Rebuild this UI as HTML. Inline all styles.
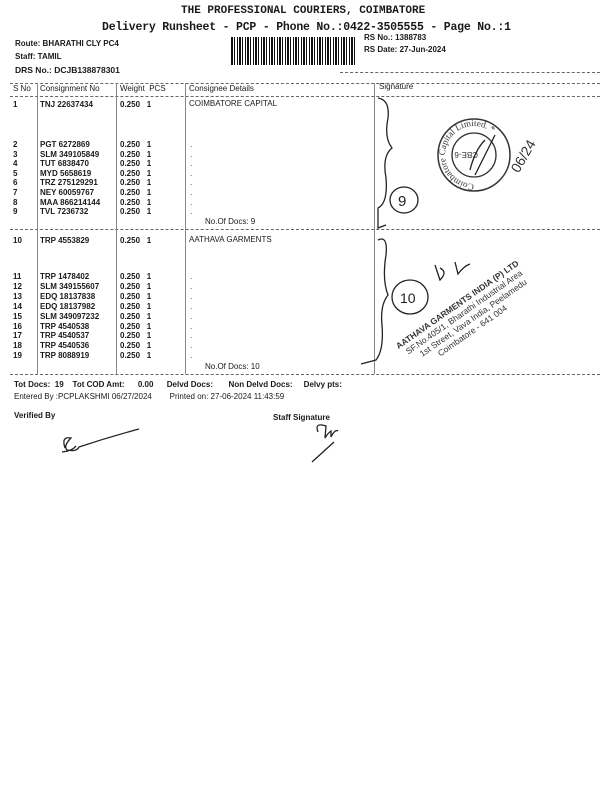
<!DOCTYPE html>
<html><head><meta charset="utf-8"><style>
body{margin:0;background:#fff;}
#p{position:relative;width:600px;height:800px;overflow:hidden;background:#fff;font-family:"Liberation Sans",sans-serif;color:#1a1a1a;font-size:8px;}
.t{position:absolute;white-space:nowrap;line-height:10px;}
.b{font-weight:bold;}
.h{position:absolute;border-top:1px dashed #666;height:0;}
.v{position:absolute;border-left:1px solid #888;width:0;}
</style></head><body><div id="p">
<div class="t b" style="left:181px;top:6px;font-size:11px;font-family:'Liberation Mono',monospace;">THE PROFESSIONAL COURIERS, COIMBATORE</div>
<div class="t b" style="left:102px;top:23px;font-size:11.5px;font-family:'Liberation Mono',monospace;letter-spacing:-0.2px">Delivery Runsheet - PCP - Phone No.:0422-3505555 - Page No.:1</div>
<div class="t b" style="left:15px;top:39px;">Route: BHARATHI CLY PC4</div>
<div class="t b" style="left:15px;top:52px;">Staff: TAMIL</div>
<div class="t b" style="left:15px;top:65px;font-size:8.5px">DRS No.: DCJB138878301</div>
<div style="position:absolute;left:231px;top:37px;width:126px;height:28px;background:repeating-linear-gradient(90deg,#111 0 2px,#fff 2px 3px,#111 3px 4px,#fff 4px 6px,#111 6px 7px,#fff 7px 8px);"></div>
<div class="t b" style="left:364px;top:33px;">RS No.: 1388783</div>
<div class="t b" style="left:364px;top:45px;">RS Date: 27-Jun-2024</div>
<div class="h" style="left:340px;top:72px;width:260px"></div>
<div class="h" style="left:10px;top:83px;width:590px"></div>
<div class="h" style="left:10px;top:96px;width:590px"></div>
<div class="h" style="left:10px;top:229px;width:590px"></div>
<div class="h" style="left:10px;top:374px;width:590px"></div>
<div class="v" style="left:37px;top:83px;height:291px"></div>
<div class="v" style="left:116px;top:83px;height:291px"></div>
<div class="v" style="left:185px;top:83px;height:291px"></div>
<div class="v" style="left:374px;top:83px;height:291px"></div>
<div class="t" style="left:13px;top:84px">S No</div>
<div class="t" style="left:40px;top:84px">Consignment No</div>
<div class="t" style="left:120px;top:84px">Weight &nbsp;PCS</div>
<div class="t" style="left:189px;top:84px">Consignee Details</div>
<div class="t" style="left:379px;top:82px">Signature</div>
<div class="t b" style="left:13px;top:100px">1</div><div class="t b" style="left:40px;top:100px">TNJ 22637434</div><div class="t b" style="left:120px;top:100px">0.250 &nbsp;&nbsp;1</div><div class="t" style="left:189px;top:99px">COIMBATORE CAPITAL</div>
<div class="t b" style="left:13px;top:140px;line-height:9.6px">2<br>3<br>4<br>5<br>6<br>7<br>8<br>9</div>
<div class="t b" style="left:40px;top:140px;line-height:9.6px">PGT 6272869<br>SLM 349105849<br>TUT 6838470<br>MYD 5658619<br>TRZ 275129291<br>NEY 60059767<br>MAA 866214144<br>TVL 7236732</div>
<div class="t b" style="left:120px;top:140px;line-height:9.6px">0.250 &nbsp;&nbsp;1<br>0.250 &nbsp;&nbsp;1<br>0.250 &nbsp;&nbsp;1<br>0.250 &nbsp;&nbsp;1<br>0.250 &nbsp;&nbsp;1<br>0.250 &nbsp;&nbsp;1<br>0.250 &nbsp;&nbsp;1<br>0.250 &nbsp;&nbsp;1</div>
<div class="t" style="left:190px;top:140px;line-height:9.6px">.<br>.<br>.<br>.<br>.<br>.<br>.<br>.</div>
<div class="t" style="left:205px;top:217px">No.Of Docs: 9</div>
<div class="t b" style="left:13px;top:236px">10</div><div class="t b" style="left:40px;top:236px">TRP 4553829</div><div class="t b" style="left:120px;top:236px">0.250 &nbsp;&nbsp;1</div><div class="t" style="left:189px;top:235px">AATHAVA GARMENTS</div>
<div class="t b" style="left:13px;top:272px;line-height:9.9px">11<br>12<br>13<br>14<br>15<br>16<br>17<br>18<br>19</div>
<div class="t b" style="left:40px;top:272px;line-height:9.9px">TRP 1478402<br>SLM 349155607<br>EDQ 18137838<br>EDQ 18137982<br>SLM 349097232<br>TRP 4540538<br>TRP 4540537<br>TRP 4540536<br>TRP 8088919</div>
<div class="t b" style="left:120px;top:272px;line-height:9.9px">0.250 &nbsp;&nbsp;1<br>0.250 &nbsp;&nbsp;1<br>0.250 &nbsp;&nbsp;1<br>0.250 &nbsp;&nbsp;1<br>0.250 &nbsp;&nbsp;1<br>0.250 &nbsp;&nbsp;1<br>0.250 &nbsp;&nbsp;1<br>0.250 &nbsp;&nbsp;1<br>0.250 &nbsp;&nbsp;1</div>
<div class="t" style="left:190px;top:272px;line-height:9.9px">.<br>.<br>.<br>.<br>.<br>.<br>.<br>.<br>.</div>
<div class="t" style="left:205px;top:362px">No.Of Docs: 10</div>
<div class="t b" style="left:14px;top:380px">Tot Docs: &nbsp;19 &nbsp;&nbsp;&nbsp;Tot COD Amt: &nbsp;&nbsp;&nbsp;&nbsp;&nbsp;0.00 &nbsp;&nbsp;&nbsp;&nbsp;&nbsp;Delvd Docs: &nbsp;&nbsp;&nbsp;&nbsp;&nbsp;&nbsp;Non Delvd Docs: &nbsp;&nbsp;&nbsp;&nbsp;Delvy pts:</div>
<div class="t" style="left:14px;top:392px">Entered By :PCPLAKSHMI 06/27/2024 &nbsp;&nbsp;&nbsp;&nbsp;&nbsp;&nbsp;&nbsp;Printed on: 27-06-2024 11:43:59</div>
<div class="t b" style="left:14px;top:411px">Verified By</div>
<div class="t b" style="left:273px;top:413px">Staff Signature</div>
<svg style="position:absolute;left:0;top:0" width="600" height="800" fill="none" stroke="#222" stroke-width="1.3">
<defs><path id="ring" d="M474 184 a29 29 0 1 1 0.1 0"/></defs>
<path d="M378 98 q12 2 10 20 q-4 20 4 30 q-10 8 -6 30 q2 25 -8 30 v20 l8 -3"/>
<ellipse cx="404" cy="200" rx="14" ry="13"/>
<text x="398" y="206" font-size="15" fill="#222" stroke="none" font-family="Liberation Sans">9</text>
<circle cx="474" cy="155" r="36" stroke="#333" stroke-width="1.5"/>
<circle cx="474" cy="155" r="22" stroke="#333"/>
<text font-size="9" fill="#333" stroke="none" font-family="Liberation Serif"><textPath href="#ring">Coimbatore Capital Limited. *</textPath></text>
<text x="462" y="158" font-size="8" fill="#333" stroke="none" transform="rotate(180 470 155)">CBE-6</text>
<path d="M485 140 q-10 10 -15 30 M495 135 l-20 40"/>
<text x="505" y="170" font-size="14" fill="#333" stroke="none" transform="rotate(-60 515 160)">06/24</text>
<path d="M378 240 q10 -5 8 15 q-4 25 2 40 q-8 10 -6 30 q2 25 -6 35 l-15 4"/>
<ellipse cx="410" cy="297" rx="18" ry="17"/>
<text x="400" y="303" font-size="14" fill="#222" stroke="none">10</text>
<g transform="rotate(-35 440 330)" fill="#333" stroke="none" font-size="8.5">
<text x="395" y="322" font-weight="bold">AATHAVA GARMENTS INDIA (P) LTD</text>
<text x="400" y="332">SF.No.405/1, Bharathi Industrial Area</text>
<text x="410" y="342">1st Street, Vava India, Peelamedu</text>
<text x="425" y="352">Coimbatore - 641 004</text>
</g>
<path d="M435 265 l5 15 q8 -8 0 -12 M455 262 l3 12 q6 -8 12 -10"/>
<path d="M65 448 q-4 -12 6 -10 q-8 8 -4 12 q10 2 12 -3 q30 -10 60 -18 M62 452 q10 -1 14 -6"/>
<path d="M318 432 q-4 -10 8 -6 l-1 12 q3 -5 6 -7 l0 6 q4 -8 7 -6 M312 462 l22 -20"/>
</svg>
</div></body></html>
